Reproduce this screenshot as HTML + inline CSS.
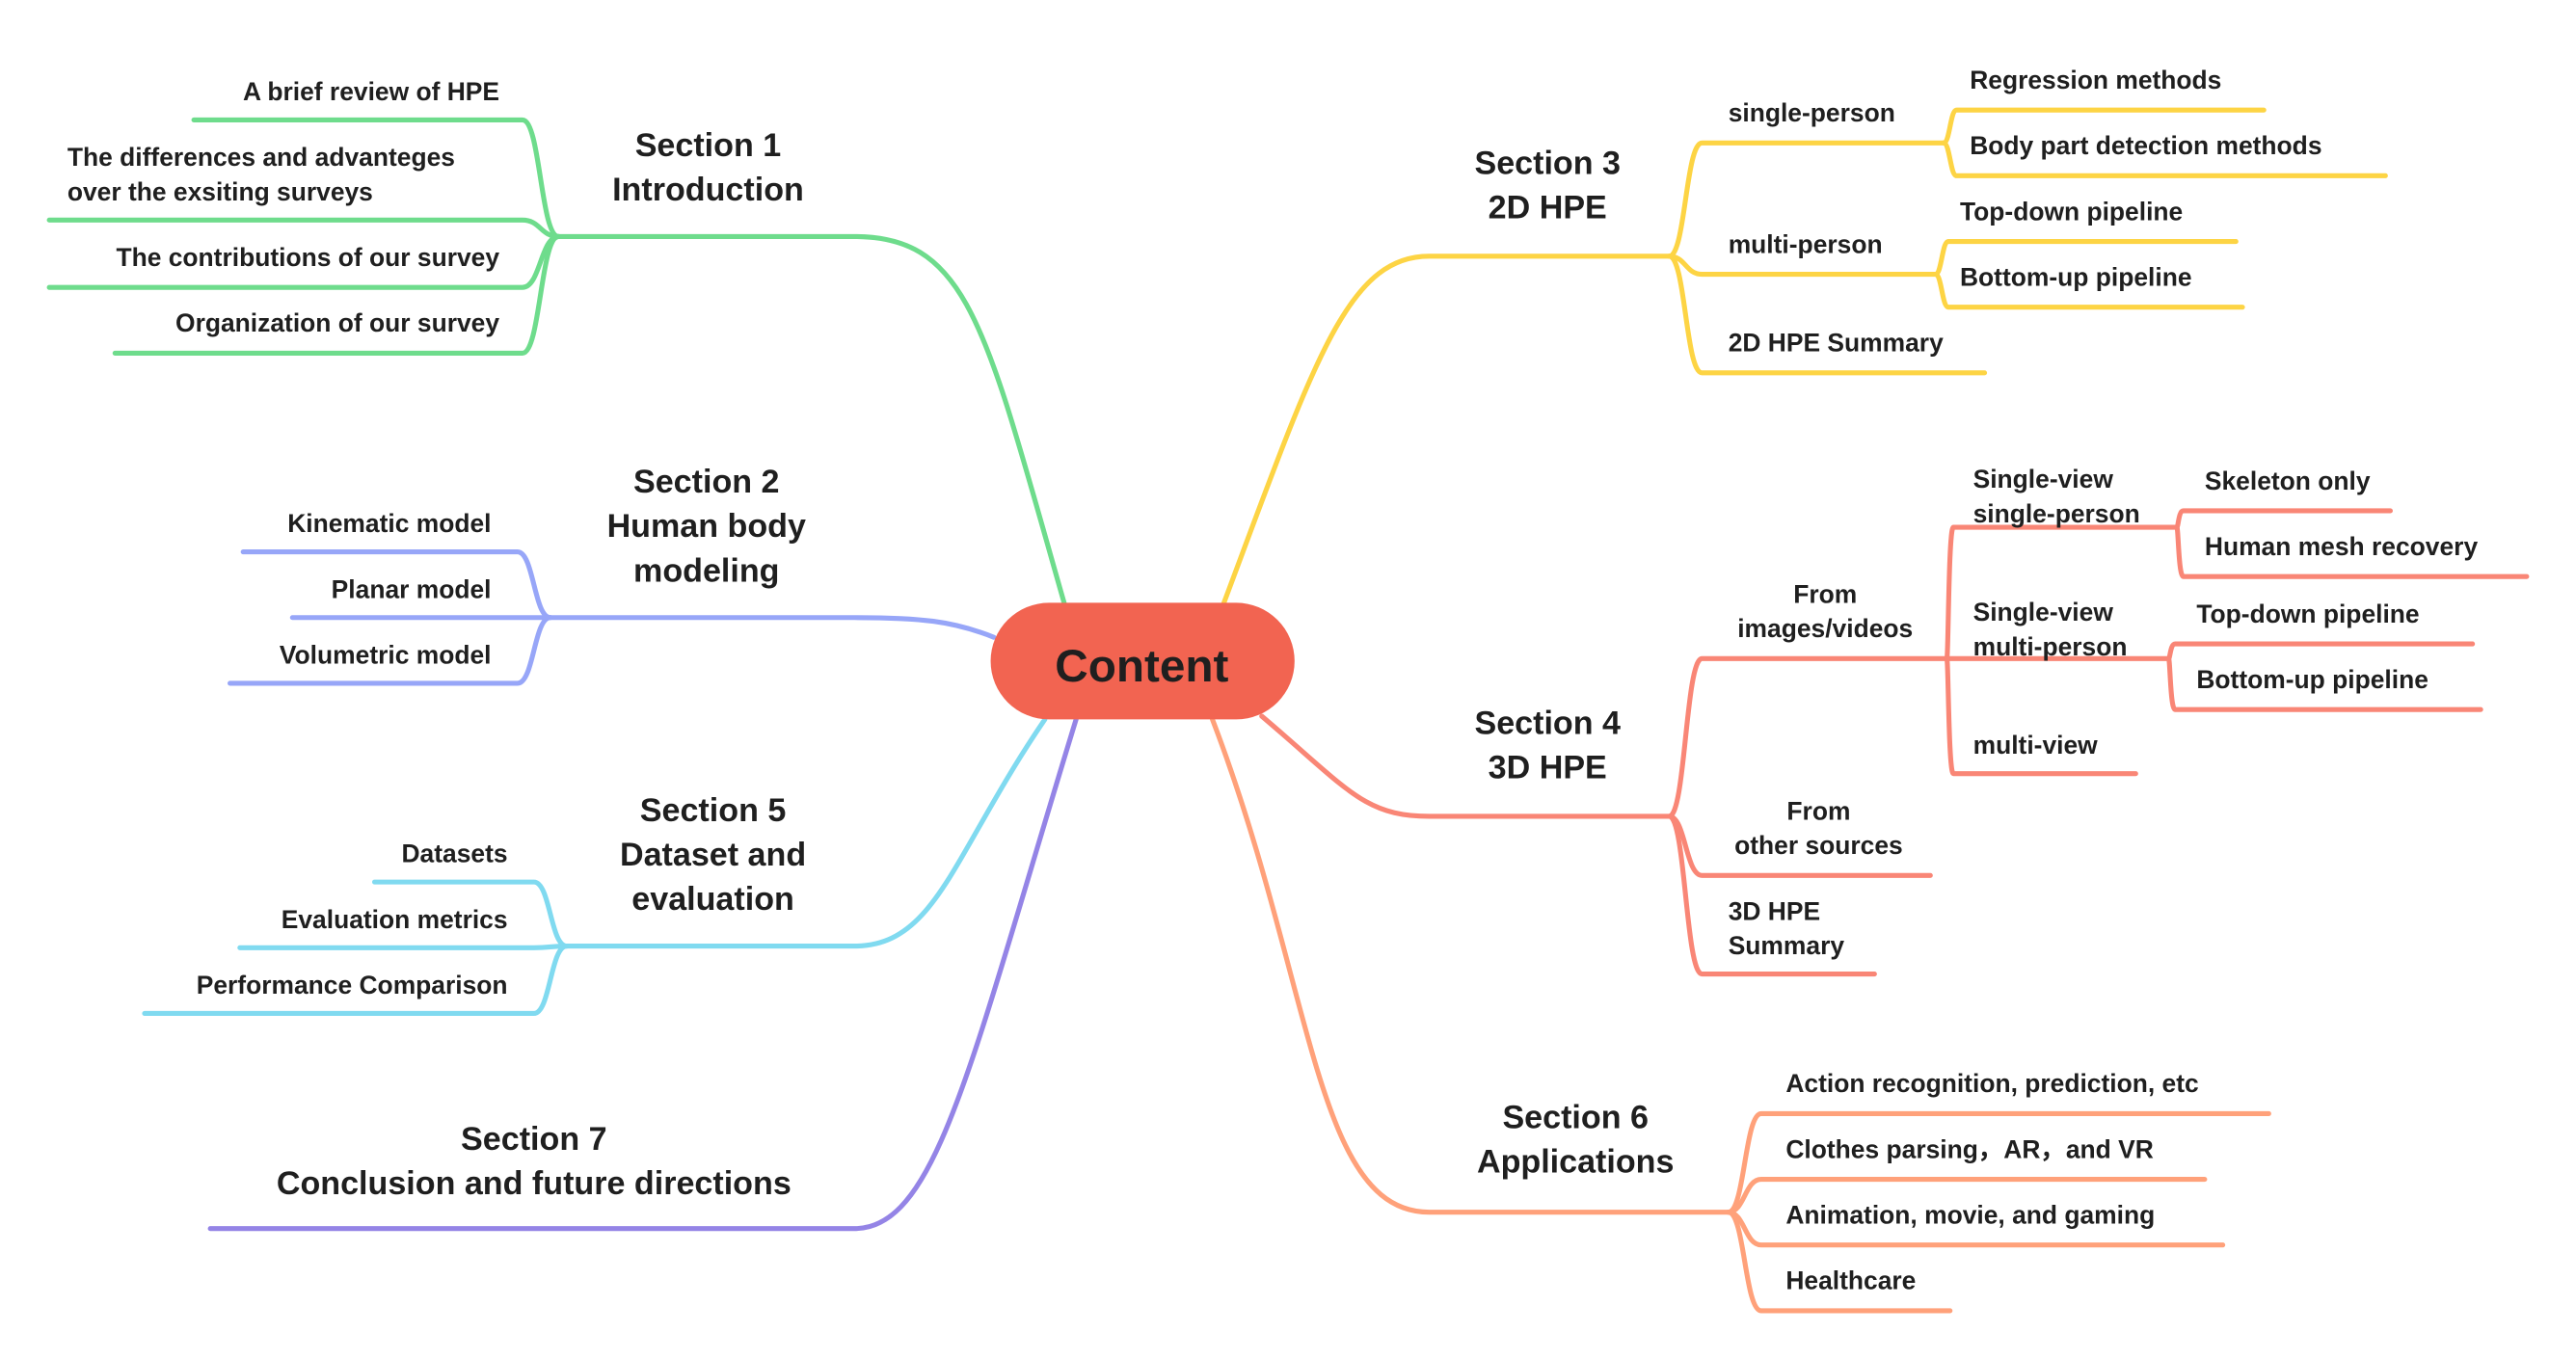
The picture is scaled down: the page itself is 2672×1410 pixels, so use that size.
<!DOCTYPE html>
<html><head><meta charset="utf-8"><style>
html,body{margin:0;padding:0;background:#fff;}
svg{display:block;}
text{font-family:"Liberation Sans",sans-serif;font-weight:bold;fill:#1f1f1f;}
.s{font-size:15.5px;}
.t{font-size:20px;}
path{fill:none;stroke-width:3;stroke-linecap:round;}
</style></head><body>
<svg width="2672" height="1410" viewBox="0 0 1568 827.4" preserveAspectRatio="none" xmlns="http://www.w3.org/2000/svg">
<!-- Section 1 green -->
<g stroke="#6EDC8C">
<path d="M648,368 C600,200 590,144 520,144 L340,144"/>
<path d="M340,144 C329,144 329,73 318,73 L118,73"/>
<path d="M340,144 C329,144 329,134 318,134 L30,134"/>
<path d="M340,144 C329,144 329,175 318,175 L30,175"/>
<path d="M340,144 C329,144 329,215 318,215 L70,215"/>
</g>
<text class="s" x="304" y="61" text-anchor="end">A brief review of HPE</text>
<text class="s" x="41" y="101">The differences and advanteges</text>
<text class="s" x="41" y="122">over the exsiting surveys</text>
<text class="s" x="304" y="162" text-anchor="end">The contributions of our survey</text>
<text class="s" x="304" y="202" text-anchor="end">Organization of our survey</text>
<text class="t" x="431" y="95" text-anchor="middle">Section 1</text>
<text class="t" x="431" y="122" text-anchor="middle">Introduction</text>

<!-- Section 2 blue -->
<g stroke="#97A6F8">
<path d="M605,388 C580,378 560,376 520,376 L335,376"/>
<path d="M335,376 C325,376 325,336 315,336 L148,336"/>
<path d="M335,376 L178,376"/>
<path d="M335,376 C325,376 325,416 315,416 L140,416"/>
</g>
<text class="s" x="299" y="324" text-anchor="end">Kinematic model</text>
<text class="s" x="299" y="364" text-anchor="end">Planar model</text>
<text class="s" x="299" y="404" text-anchor="end">Volumetric model</text>
<text class="t" x="430" y="300" text-anchor="middle">Section 2</text>
<text class="t" x="430" y="327" text-anchor="middle">Human body</text>
<text class="t" x="430" y="354" text-anchor="middle">modeling</text>

<!-- Section 5 cyan -->
<g stroke="#80DAF0">
<path d="M636,438 C580,520 570,576 520,576 L345,576"/>
<path d="M345,576 C335,576 335,537 325,537 L228,537"/>
<path d="M345,576 C335,576 335,577 325,577 L146,577"/>
<path d="M345,576 C335,576 335,617 325,617 L88,617"/>
</g>
<text class="s" x="309" y="525" text-anchor="end">Datasets</text>
<text class="s" x="309" y="565" text-anchor="end">Evaluation metrics</text>
<text class="s" x="309" y="605" text-anchor="end">Performance Comparison</text>
<text class="t" x="434" y="500" text-anchor="middle">Section 5</text>
<text class="t" x="434" y="527" text-anchor="middle">Dataset and</text>
<text class="t" x="434" y="554" text-anchor="middle">evaluation</text>

<!-- Section 7 purple -->
<path stroke="#9484E6" d="M655,438 C590,650 570,748 520,748 L128,748"/>
<text class="t" x="325" y="700" text-anchor="middle">Section 7</text>
<text class="t" x="325" y="727" text-anchor="middle">Conclusion and future directions</text>

<!-- Section 3 yellow -->
<g stroke="#FDD444">
<path d="M745,367 C800,220 820,156 870,156 L1016,156"/>
<path d="M1016,156 C1026,156 1026,87 1036,87 L1183,87"/>
<path d="M1016,156 C1026,156 1026,167 1036,167 L1178,167"/>
<path d="M1016,156 C1026,156 1026,227 1036,227 L1208,227"/>
<path d="M1183,87 C1187,87 1187,67 1191,67 L1378,67"/>
<path d="M1183,87 C1187,87 1187,107 1191,107 L1452,107"/>
<path d="M1178,167 C1182,167 1182,147 1186,147 L1361,147"/>
<path d="M1178,167 C1182,167 1182,187 1186,187 L1365,187"/>
</g>
<text class="s" x="1052" y="74">single-person</text>
<text class="s" x="1052" y="154">multi-person</text>
<text class="s" x="1052" y="214">2D HPE Summary</text>
<text class="s" x="1199" y="54">Regression methods</text>
<text class="s" x="1199" y="94">Body part detection methods</text>
<text class="s" x="1193" y="134">Top-down pipeline</text>
<text class="s" x="1193" y="174">Bottom-up pipeline</text>
<text class="t" x="942" y="106" text-anchor="middle">Section 3</text>
<text class="t" x="942" y="133" text-anchor="middle">2D HPE</text>

<!-- Section 4 salmon -->
<g stroke="#F98676">
<path d="M768,436 C820,480 830,497 870,497 L1016,497"/>
<path d="M1016,497 C1026,497 1026,401 1036,401 L1185,401"/>
<path d="M1016,497 C1026,497 1026,533 1036,533 L1175,533"/>
<path d="M1016,497 C1026,497 1026,593 1036,593 L1141,593"/>
<path d="M1185,401 C1186,401 1186,321 1189,321 L1325,321"/>
<path d="M1185,401 L1320,401"/>
<path d="M1185,401 C1186,401 1186,471 1189,471 L1300,471"/>
<path d="M1325,321 C1326,321 1326,311 1329,311 L1455,311"/>
<path d="M1325,321 C1326,321 1326,351 1329,351 L1538,351"/>
<path d="M1320,401 C1321,401 1321,392 1324,392 L1505,392"/>
<path d="M1320,401 C1321,401 1321,432 1324,432 L1510,432"/>
</g>
<text class="s" x="1111" y="367" text-anchor="middle">From</text>
<text class="s" x="1111" y="388" text-anchor="middle">images/videos</text>
<text class="s" x="1201" y="297">Single-view</text>
<text class="s" x="1201" y="318">single-person</text>
<text class="s" x="1342" y="298">Skeleton only</text>
<text class="s" x="1342" y="338">Human mesh recovery</text>
<text class="s" x="1201" y="378">Single-view</text>
<text class="s" x="1201" y="399">multi-person</text>
<text class="s" x="1337" y="379">Top-down pipeline</text>
<text class="s" x="1337" y="419">Bottom-up pipeline</text>
<text class="s" x="1201" y="459">multi-view</text>
<text class="s" x="1107" y="499" text-anchor="middle">From</text>
<text class="s" x="1107" y="520" text-anchor="middle">other sources</text>
<text class="s" x="1052" y="560">3D HPE</text>
<text class="s" x="1052" y="581">Summary</text>
<text class="t" x="942" y="447" text-anchor="middle">Section 4</text>
<text class="t" x="942" y="474" text-anchor="middle">3D HPE</text>

<!-- Section 6 orange -->
<g stroke="#FFA17A">
<path d="M738,438 C800,600 800,738 870,738 L1052,738"/>
<path d="M1052,738 C1062,738 1062,678 1072,678 L1381,678"/>
<path d="M1052,738 C1062,738 1062,718 1072,718 L1342,718"/>
<path d="M1052,738 C1062,738 1062,758 1072,758 L1353,758"/>
<path d="M1052,738 C1062,738 1062,798 1072,798 L1187,798"/>
</g>
<text class="s" x="1087" y="665">Action recognition, prediction, etc</text>
<text class="s" x="1087" y="705">Clothes parsing，AR，and VR</text>
<text class="s" x="1087" y="745">Animation, movie, and gaming</text>
<text class="s" x="1087" y="785">Healthcare</text>
<text class="t" x="959" y="687" text-anchor="middle">Section 6</text>
<text class="t" x="959" y="714" text-anchor="middle">Applications</text>

<!-- Center -->
<rect x="603" y="367" width="185" height="71" rx="35.5" fill="#F26451"/>
<text x="695" y="415" text-anchor="middle" style="font-size:28px">Content</text>
</svg>
</body></html>
